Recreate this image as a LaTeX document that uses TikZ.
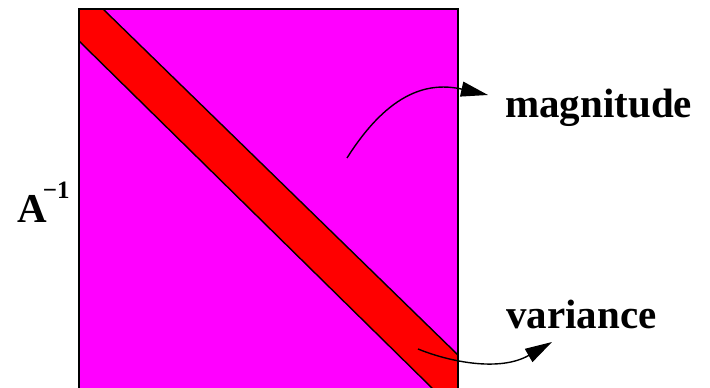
\documentclass[tikz,border=0pt]{standalone}
\usepackage{fontspec}
\setmainfont{Liberation Serif}
\usepackage{tikz}
\usepackage{xcolor}
\usetikzlibrary{arrows.meta}
\definecolor{mgnt}{RGB}{255,  0,255}
\definecolor{bred}{RGB}{255,  0,  0}
\tikzset{
  % Bold serif label
  LB/.style={font=\fontsize{41}{41}\selectfont\bfseries,inner sep=0pt,
             anchor=base west},
  % Matrix block
  MB/.style={draw=black,line width=1.4pt},
  % Curved pointer arrows
  Arr/.style={-{Triangle[length=27pt,width=15pt]},line width=1.4pt,color=black},
}
\begin{document}
\begin{tikzpicture}[x=1pt,y=-1pt]
      \useasboundingbox (0,0) rectangle (710,388);
      % square and diagonal band
      \fill[mgnt] (79,9) rectangle (458,390);
      \fill[bred] (79,9) -- (103,9) -- (458,355) -- (458,390)
                  -- (434,390) -- (79,41) -- cycle;
      \draw[MB] (103,9) -- (458,355);
      \draw[MB] (79,41) -- (434,390);
      \draw[MB] (79,390) rectangle (458,9);
      % labels
      \node[LB] at (17,222) (inv)
            {A\kern-4pt\raisebox{24pt}{\fontsize{25}{25}\selectfont\bfseries −1}};
      \node[LB] at (505,117) (mag) {magnitude};
      \node[LB] at (506,328) (var) {variance};
      % arrows
      \coordinate (m0) at (347,158);
      \coordinate (m1) at (488,95);
      \draw[Arr] (m0) .. controls (390,90) and (430,82) .. (m1);
      \coordinate (v0) at (418,349);
      \coordinate (v1) at (552,342);
      \draw[Arr] (v0) .. controls (450,362) and (500,372) .. (v1);
\end{tikzpicture}
\end{document}
